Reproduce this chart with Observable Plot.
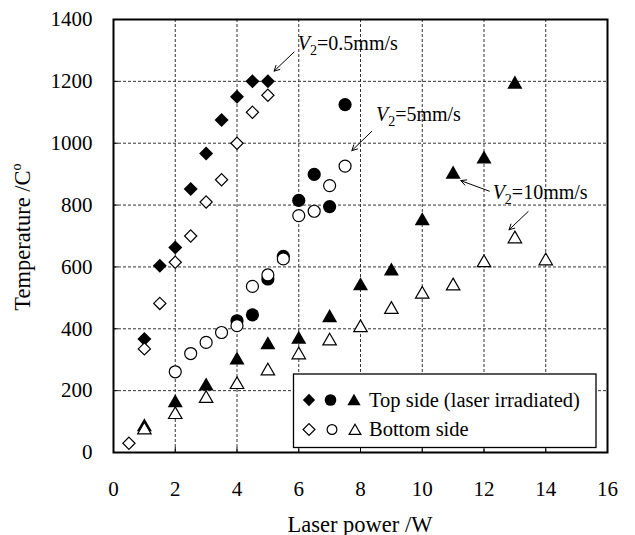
<!DOCTYPE html>
<html><head><meta charset="utf-8">
<script src="https://cdn.jsdelivr.net/npm/d3@7"></script>
<script src="https://cdn.jsdelivr.net/npm/@observablehq/plot@0.6"></script>
<style>
body{margin:0;background:#fff}
svg, svg text{font-family:"Liberation Serif","Times New Roman",serif !important}
</style>
</head><body><div id="chart"></div>
<script>
// ---- data ----
const topDiamondX = [1, 1.5, 2, 2.5, 3, 3.5, 4, 4.5, 5];
const topDiamondY = [367, 604, 663, 852, 967, 1075, 1150, 1200, 1200];
const botDiamondX = [0.5, 1, 1.5, 2, 2.5, 3, 3.5, 4, 4.5, 5];
const botDiamondY = [30, 335, 482, 615, 700, 810, 882, 1000, 1100, 1155];
const topCircleX = [4, 4.5, 5, 5.5, 6, 6.5, 7, 7.5];
const topCircleY = [426, 445, 561, 634, 815, 899, 795, 1125];
const botCircleX = [2, 2.5, 3, 3.5, 4, 4.5, 5, 5.5, 6, 6.5, 7, 7.5];
const botCircleY = [261, 320, 356, 388, 410, 537, 574, 626, 766, 780, 863, 926];
const topTriX = [1, 2, 3, 4, 5, 6, 7, 8, 9, 10, 11, 12, 13];
const topTriY = [89, 167, 221, 305, 354, 372, 442, 545, 593, 755, 906, 955, 1197];
const botTriX = [1, 2, 3, 4, 5, 6, 7, 8, 9, 10, 11, 12, 13, 14];
const botTriY = [79, 129, 181, 226, 270, 322, 367, 410, 469, 518, 545, 620, 697, 626];

const xTicks = [0, 2, 4, 6, 8, 10, 12, 14, 16];
const yTicks = [0, 200, 400, 600, 800, 1000, 1200, 1400];

const annoText = ["V2=0.5mm/s", "V2=5mm/s", "V2=10mm/s"];
const annoX = [5.97, 8.5, 12.28];
const annoY = [1322, 1093, 841];

const arrowX1 = [5.85, 8.36, 12.17, 13.43];
const arrowY1 = [1295, 1038, 845, 779];
const arrowX2 = [5.2, 7.72, 11.25, 12.81];
const arrowY2 = [1233, 976, 879, 720];

const legendLabels = ["Top side (laser irradiated)", "Bottom side"];
const xTitle = "Laser power /W";
const yTitle = "Temperature /C";
const yTitleSup = "o";

// ---- tables built from the arrays ----
const rows = (xs, ys) => xs.map((x, i) => ({x, y: ys[i]}));
const annos = annoText.map((t, i) => ({t, x: annoX[i], y: annoY[i]}));
const arrows = arrowX1.map((x1, i) => ({x1, y1: arrowY1[i], x2: arrowX2[i], y2: arrowY2[i]}));

const serif = '"Liberation Serif","Times New Roman",serif';
const filled = {fill: "black", stroke: "none"};
const open = {fill: "white", stroke: "black", strokeWidth: 1.2};

const plot = Plot.plot({
  width: 635,
  height: 535,
  marginLeft: 113,
  marginTop: 19,
  marginRight: 28,
  marginBottom: 83,
  style: {fontFamily: serif, fontSize: "21px", background: "white"},
  x: {domain: [0, 16]},
  y: {domain: [0, 1400]},
  marks: [
    Plot.gridX(xTicks.slice(1, -1), {stroke: "#333", strokeOpacity: 1, strokeDasharray: "3,2", strokeWidth: 1}),
    Plot.gridY(yTicks.slice(1, -1), {stroke: "#333", strokeOpacity: 1, strokeDasharray: "3,2", strokeWidth: 1}),
    Plot.ruleX(xTicks, {x: d => d, y1: 0, y2: 0, insetTop: -5, stroke: "black"}),
    Plot.ruleY(yTicks, {y: d => d, x1: 0, x2: 0, insetRight: -5, stroke: "black"}),
    Plot.axisX(xTicks, {tickSize: 0, tickPadding: 29, fontSize: 21, fontFamily: serif, tickFormat: d => String(d), label: null}),
    Plot.axisY(yTicks, {tickSize: 0, tickPadding: 21, fontSize: 21, fontFamily: serif, tickFormat: d => String(d), label: null}),
    Plot.dot(rows(topDiamondX, topDiamondY), {x: "x", y: "y", symbol: "diamond2", r: 6.3, ...filled}),
    Plot.dot(rows(botDiamondX, botDiamondY), {x: "x", y: "y", symbol: "diamond2", r: 5.5, ...open}),
    Plot.dot(rows(topCircleX, topCircleY), {x: "x", y: "y", symbol: "circle", r: 6.6, ...filled}),
    Plot.dot(rows(botCircleX, botCircleY), {x: "x", y: "y", symbol: "circle", r: 6.0, ...open}),
    Plot.dot(rows(topTriX, topTriY), {x: "x", y: "y", symbol: "triangle", r: 5.6, dy: 2, ...filled}),
    Plot.dot(rows(botTriX, botTriY), {x: "x", y: "y", symbol: "triangle", r: 5.0, dy: 2, ...open}),
    Plot.arrow(arrows, {x1: "x1", y1: "y1", x2: "x2", y2: "y2", stroke: "black", strokeWidth: 1, headLength: 9, headAngle: 55}),
    Plot.text(annos, {x: "x", y: "y", text: "t", textAnchor: "start", fontSize: 20, fontFamily: serif, fill: "black", className: "anno"}),
    Plot.frame({stroke: "black", strokeWidth: 2})
  ]
});

const svg = d3.select(plot);

// annotation text: italic V with subscript 2
svg.selectAll("g.anno text").each(function() {
  const t = this.textContent;
  const el = d3.select(this);
  el.text(null);
  el.append("tspan").attr("font-style", "italic").text(t.slice(0, 1));
  el.append("tspan").attr("dy", 5).attr("font-size", 14).text(t.slice(1, 2));
  el.append("tspan").attr("dy", -5).text(t.slice(2));
});

// axis titles
svg.append("text")
  .attr("x", 360).attr("y", 531.5)
  .attr("text-anchor", "middle").attr("font-size", 22.5).attr("fill", "black")
  .text(xTitle);
const yt = svg.append("text")
  .attr("transform", "translate(30,237) rotate(-90)")
  .attr("text-anchor", "middle").attr("font-size", 22.5).attr("fill", "black");
yt.append("tspan").text(yTitle);
yt.append("tspan").attr("dy", -9).attr("font-size", 14).text(yTitleSup);

// legend
const lg = svg.append("g").attr("text-anchor", "start");
lg.append("rect").attr("x", 293.5).attr("y", 374).attr("width", 302.5).attr("height", 73.5)
  .attr("fill", "white").attr("stroke", "black").attr("stroke-width", 1.3);
const sym = (type, size) => d3.symbol(type, size)();
const legendRows = [
  {y: 400, items: [[d3.symbolDiamond2, 96, 309], [d3.symbolCircle, 107, 330.5], [d3.symbolTriangle, 77, 354]], style: filled},
  {y: 429.5, items: [[d3.symbolDiamond2, 90, 309], [d3.symbolCircle, 75, 332], [d3.symbolTriangle, 60, 355]], style: open}
];
legendRows.forEach((r, i) => {
  r.items.forEach(([type, size, x]) => {
    const dyy = type === d3.symbolTriangle ? 1.5 : 0;
    lg.append("path").attr("d", sym(type, size))
      .attr("transform", `translate(${x},${r.y + dyy})`)
      .attr("fill", r.style.fill).attr("stroke", r.style.stroke === "none" ? null : "black")
      .attr("stroke-width", r.style.strokeWidth || null);
  });
  lg.append("text").attr("x", 369).attr("y", r.y + 6.5).attr("text-anchor", "start")
    .attr("font-size", 20.5).attr("fill", "black").text(legendLabels[i]);
});

document.getElementById("chart").appendChild(plot);
</script>
</body></html>
